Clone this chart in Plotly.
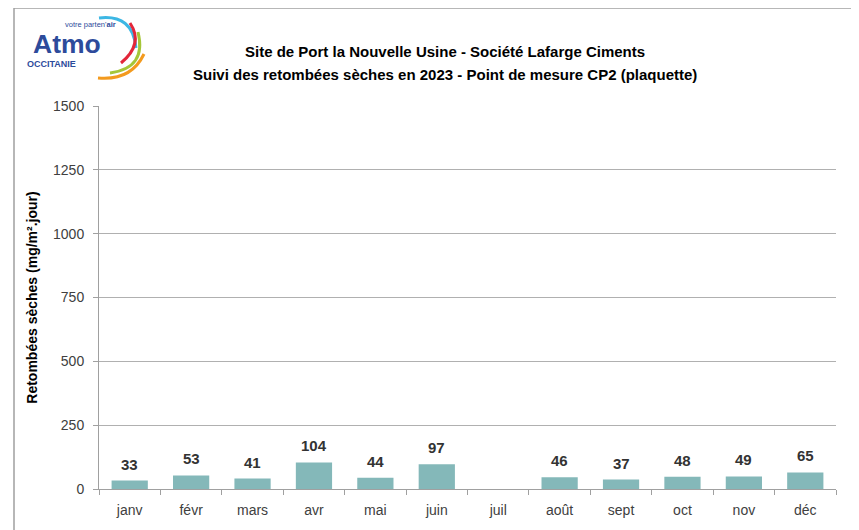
import plotly.graph_objects as go

months = ["janv", "févr", "mars", "avr", "mai", "juin", "juil", "août", "sept", "oct", "nov", "déc"]
values = [33, 53, 41, 104, 44, 97, None, 46, 37, 48, 49, 65]
y_ticks = [0, 250, 500, 750, 1000, 1250, 1500]

OFF = 8  # page body margin offset
W, H = 859 - OFF, 530 - OFF
# target plot area in screen pixels
SL, SR, ST, SB = 99, 836, 106, 489
L, R, T, B = SL - OFF, SR - OFF, ST - OFF, SB - OFF
pw, ph = R - L, B - T


def px(x):
    return (x - OFF - L) / pw


def py(y):
    return (B - (y - OFF)) / ph


fig = go.Figure()
fig.add_trace(go.Bar(
    x=months, y=values,
    marker=dict(color="#84B8B9", line=dict(width=0)),
    width=0.59,
    hoverinfo="x+y",
))

shapes = []
# outer frame
shapes.append(dict(type="rect", xref="paper", yref="paper",
                   x0=px(14), x1=px(900), y0=py(8), y1=py(600),
                   line=dict(color="#A0A0A0", width=1.5), fillcolor="rgba(0,0,0,0)", layer="below"))


def curve(p0, c, p1, color, w=3):
    path = (f"M {px(p0[0]):.5f},{py(p0[1]):.5f} "
            f"Q {px(c[0]):.5f},{py(c[1]):.5f} {px(p1[0]):.5f},{py(p1[1]):.5f}")
    shapes.append(dict(type="path", xref="paper", yref="paper", path=path,
                       line=dict(color=color, width=w)))


curve((99, 18), (133, 14), (136, 48), "#3DB7E4")
curve((130, 23), (144, 44), (121, 63), "#E3263A")
curve((138, 32), (147, 68), (110, 73), "#A5C639")
curve((98, 78), (131, 81), (144, 54), "#F39A1E")

annotations = [
    dict(text="<b>Atmo</b>", x=px(31), y=py(44), xref="paper", yref="paper", xanchor="left", yanchor="middle",
         showarrow=False, font=dict(family="Liberation Sans, Arial", size=26.5, color="#2D4B9B")),
    dict(text="votre parten'<b>air</b>", x=px(63), y=py(24), xref="paper", yref="paper",
         xanchor="left", yanchor="middle", showarrow=False,
         font=dict(family="Liberation Sans, Arial", size=7.5, color="#2D4B9B")),
    dict(text="<b>OCCITANIE</b>", x=px(25), y=py(64.5), xref="paper", yref="paper",
         xanchor="left", yanchor="middle", showarrow=False,
         font=dict(family="Liberation Sans, Arial", size=9, color="#2D4B9B")),
    dict(text="<b>Site de Port la Nouvelle Usine - Société Lafarge Ciments</b>", x=px(445), y=py(52),
         xref="paper", yref="paper", xanchor="center", yanchor="middle", showarrow=False,
         font=dict(family="Liberation Sans, Arial", size=15, color="#000000")),
    dict(text="<b>Suivi des retombées sèches en 2023 - Point de mesure CP2 (plaquette)</b>", x=px(445), y=py(75),
         xref="paper", yref="paper", xanchor="center", yanchor="middle", showarrow=False,
         font=dict(family="Liberation Sans, Arial", size=15, color="#000000")),
]

# value labels above bars
for m, v in zip(months, values):
    if v is None:
        continue
    annotations.append(dict(
        text=f"<b>{v}</b>", x=m, y=v, xref="x", yref="y", xanchor="center", yanchor="bottom",
        yshift=6, showarrow=False,
        font=dict(family="Liberation Sans, Arial", size=15, color="#333333"),
    ))

fig.update_layout(
    width=W, height=H,
    margin=dict(l=L, r=W - R, t=T, b=H - B, pad=0),
    paper_bgcolor="white", plot_bgcolor="white",
    showlegend=False,
    shapes=shapes,
    annotations=annotations,
    bargap=0.41,
    xaxis=dict(
        showline=True, linecolor="#A0A0A0", linewidth=1,
        ticks="outside", ticklen=5, tickcolor="#A0A0A0", tickson="boundaries",
        tickfont=dict(family="Liberation Sans, Arial", size=14, color="#404040"),
        ticklabelstandoff=8,
        showgrid=False, fixedrange=True,
    ),
    yaxis=dict(
        range=[0, 1500], tickvals=y_ticks, ticktext=[str(v) for v in y_ticks],
        showline=True, linecolor="#A0A0A0", linewidth=1,
        ticks="outside", ticklen=5, tickcolor="#A0A0A0",
        ticklabelstandoff=6,
        showgrid=True, gridcolor="#B0B0B0", gridwidth=1,
        zeroline=False,
        tickfont=dict(family="Liberation Sans, Arial", size=14, color="#404040"),
        title=dict(text="<b>Retombées sèches (mg/m².jour)</b>", standoff=12,
                   font=dict(family="Liberation Sans, Arial", size=14, color="#000000")),
        fixedrange=True,
    ),
)

fig.write_html("out.html")
